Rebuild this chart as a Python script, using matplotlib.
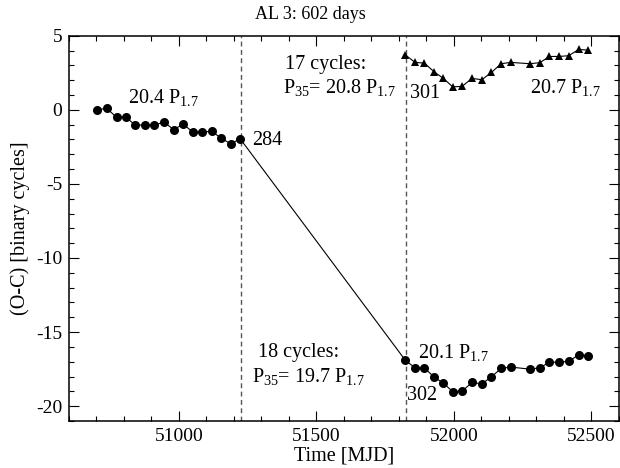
import matplotlib
matplotlib.use("Agg")
import matplotlib.pyplot as plt
from matplotlib.ticker import MultipleLocator

plt.rcParams['font.family'] = ['Liberation Serif', 'DejaVu Serif']
plt.rcParams['mathtext.fontset'] = 'custom'
plt.rcParams['mathtext.rm'] = 'Liberation Serif'
plt.rcParams['mathtext.it'] = 'Liberation Serif:italic'
plt.rcParams['mathtext.default'] = 'regular'
plt.rcParams['axes.unicode_minus'] = False

# Segment 1 (circles, before first gap)
t1 = [50703, 50737, 50773, 50807, 50841, 50876, 50911, 50945, 50981, 51016,
      51050, 51084, 51119, 51154, 51188, 51223]
oc1 = [0.0, 0.1, -0.5, -0.5, -1.03, -1.03, -1.03, -0.83, -1.33, -0.97,
       -1.5, -1.49, -1.46, -1.91, -2.3, -1.96]

# Segment 3 times (after second gap)
t3 = [51824, 51859, 51893, 51928, 51962, 51996, 52030, 52066, 52102, 52137,
      52172, 52207, 52277, 52313, 52348, 52383, 52418, 52454, 52489]
# circles: 18 cycles counted across gap
oc3_circ = [-16.91, -17.41, -17.43, -18.02, -18.45, -19.01, -18.99, -18.40, -18.49, -18.02,
            -17.45, -17.36, -17.50, -17.41, -17.03, -17.03, -16.98, -16.54, -16.58]
# triangles: 17 cycles counted across gap
oc3_tri = [3.70, 3.20, 3.15, 2.57, 2.12, 1.55, 1.58, 2.12, 2.03, 2.52,
           3.11, 3.20, 3.11, 3.18, 3.60, 3.60, 3.65, 4.07, 4.03]

gap_lines = [51224, 51827]

fig = plt.figure(figsize=(6.2, 4.68), dpi=100)
ax = fig.add_axes([0.1113, 0.1004, 0.8866, 0.8233])

ax.plot(t1 + t3, oc1 + oc3_circ, color='black', lw=0.8, marker='o', ms=6.5,
        markeredgewidth=0)
ax.plot(t3, oc3_tri, color='black', lw=0.8, marker='^', ms=6.2, markeredgewidth=0)

for g in gap_lines:
    ax.axvline(g, color='#555555', lw=1.0, ls=(0, (3.5, 2.5)), zorder=0)

ax.set_xlim(50600, 52600)
ax.set_ylim(-21, 5)
ax.xaxis.set_major_locator(MultipleLocator(500))
ax.xaxis.set_minor_locator(MultipleLocator(100))
ax.yaxis.set_major_locator(MultipleLocator(5))
ax.yaxis.set_minor_locator(MultipleLocator(1))
ax.tick_params(which='both', direction='in', top=True, right=True, width=0.8,
               labelsize=14)
ax.tick_params(which='major', length=7.5, pad=5)
ax.tick_params(which='minor', length=3.6)
for s in ax.spines.values():
    s.set_linewidth(1.1)

ax.set_xlabel('Time [MJD]', fontsize=14.5, labelpad=1)
ax.set_ylabel('(O-C) [binary cycles]', fontsize=14.5, labelpad=4)

fs = 14.5
ax.text(50814, 0.45, '20.4 P$_{1.7}$', fontsize=fs, va='baseline')
ax.text(51266, -2.36, '284', fontsize=fs, va='baseline')
ax.text(51387, 2.75, '17 cycles:', fontsize=fs, va='baseline')
ax.text(51379, 1.13, 'P$_{35}$= 20.8 P$_{1.7}$', fontsize=fs, va='baseline')
ax.text(51840, 0.79, '301', fontsize=fs, va='baseline')
ax.text(52276, 1.13, '20.7 P$_{1.7}$', fontsize=fs, va='baseline')
ax.text(51288, -16.71, '18 cycles:', fontsize=fs, va='baseline')
ax.text(51264, -18.4, 'P$_{35}$= 19.7 P$_{1.7}$', fontsize=fs, va='baseline')
ax.text(51870, -16.78, '20.1 P$_{1.7}$', fontsize=fs, va='baseline')
ax.text(51830, -19.6, '302', fontsize=fs, va='baseline')

fig.text(0.5, 0.97, 'AL 3: 602 days', fontsize=13, ha='center', va='center')

fig.savefig('out.png', dpi=100)
